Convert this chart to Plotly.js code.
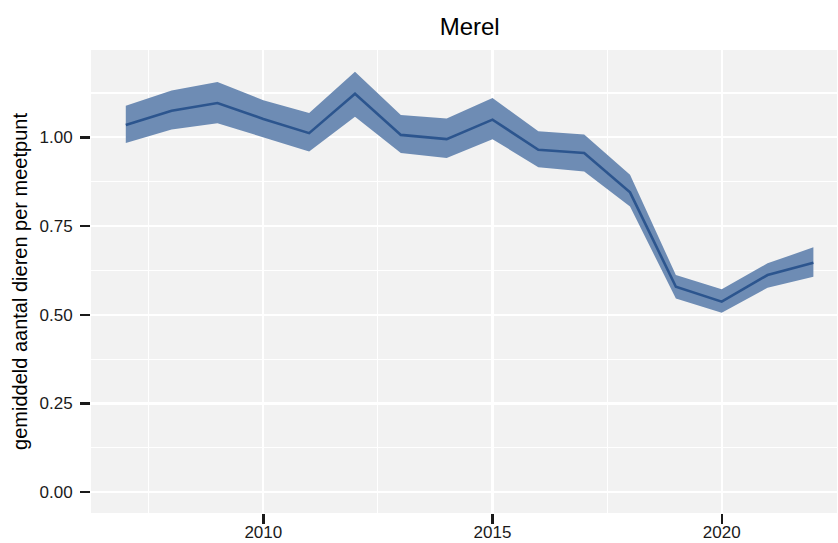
<!DOCTYPE html>
<html>
<head>
<meta charset="utf-8">
<script src="https://cdn.plot.ly/plotly-3.0.1.min.js"></script>
<style>html,body{margin:0;padding:0;background:#fff}#chart{width:838px;height:543px}</style>
</head>
<body>
<div id="chart"></div>
<script>
const years = [2007,2008,2009,2010,2011,2012,2013,2014,2015,2016,2017,2018,2019,2020,2021,2022];
const meanVals = [1.035,1.075,1.097,1.052,1.012,1.123,1.007,0.995,1.050,0.965,0.956,0.845,0.579,0.537,0.612,0.647];
const upperVals = [1.089,1.132,1.156,1.105,1.069,1.185,1.063,1.053,1.111,1.017,1.008,0.895,0.612,0.572,0.645,0.690];
const lowerVals = [0.984,1.022,1.040,1.001,0.960,1.058,0.956,0.942,0.995,0.916,0.904,0.805,0.546,0.506,0.576,0.607];
const titleText = "Merel";
const yTitle = "gemiddeld aantal dieren per meetpunt";

const fillColor = "#6e8cb4";
const lineColor = "#2c558e";
const font = "Liberation Sans, Arial, sans-serif";

const traces = [
  {x: years, y: lowerVals, type: "scatter", mode: "lines", line: {width: 0, color: fillColor}, hoverinfo: "skip", showlegend: false},
  {x: years, y: upperVals, type: "scatter", mode: "lines", fill: "tonexty", fillcolor: fillColor, line: {width: 0, color: fillColor}, hoverinfo: "skip", showlegend: false},
  {x: years, y: meanVals, type: "scatter", mode: "lines", line: {width: 2.6, color: lineColor}, showlegend: false}
];

const layout = {
  width: 838, height: 543,
  margin: {l: 91, r: 1, t: 50, b: 30},
  paper_bgcolor: "#ffffff",
  plot_bgcolor: "#f2f2f2",
  font: {family: font, color: "#1a1a1a"},
  title: {text: titleText, font: {family: font, size: 24, color: "#000"}, x: 0.5076, xref: "paper", xanchor: "center", y: 0.951, yref: "container", yanchor: "middle"},
  xaxis: {
    range: [2006.241, 2022.515], tickmode: "linear", tick0: 2010, dtick: 5,
    showgrid: true, gridcolor: "#ffffff", gridwidth: 2.2, zeroline: false, showline: false,
    ticks: "outside", ticklen: 10, tickwidth: 2.4, tickcolor: "#1a1a1a",
    tickfont: {family: font, size: 17, color: "#1a1a1a"}, ticklabelstandoff: -6,
    minor: {tickmode: "linear", tick0: 2007.5, dtick: 2.5, showgrid: true, gridcolor: "#ffffff", gridwidth: 1.1, ticks: ""},
    automargin: false
  },
  yaxis: {
    range: [-0.0587, 1.2463], tickmode: "linear", tick0: 0, dtick: 0.25, tickformat: ".2f",
    showgrid: true, gridcolor: "#ffffff", gridwidth: 2.2, zeroline: false, showline: false,
    ticks: "outside", ticklen: 10, tickwidth: 2.4, tickcolor: "#1a1a1a",
    tickfont: {family: font, size: 17, color: "#1a1a1a"}, ticklabelstandoff: 4,
    minor: {tickmode: "linear", tick0: 0.125, dtick: 0.25, showgrid: true, gridcolor: "#ffffff", gridwidth: 1.1, ticks: ""},
    title: {text: yTitle, font: {family: font, size: 20, color: "#000"}, standoff: 6},
    automargin: false
  },
  showlegend: false
};

Plotly.newPlot("chart", traces, layout, {staticPlot: true, displayModeBar: false});
</script>
</body>
</html>
